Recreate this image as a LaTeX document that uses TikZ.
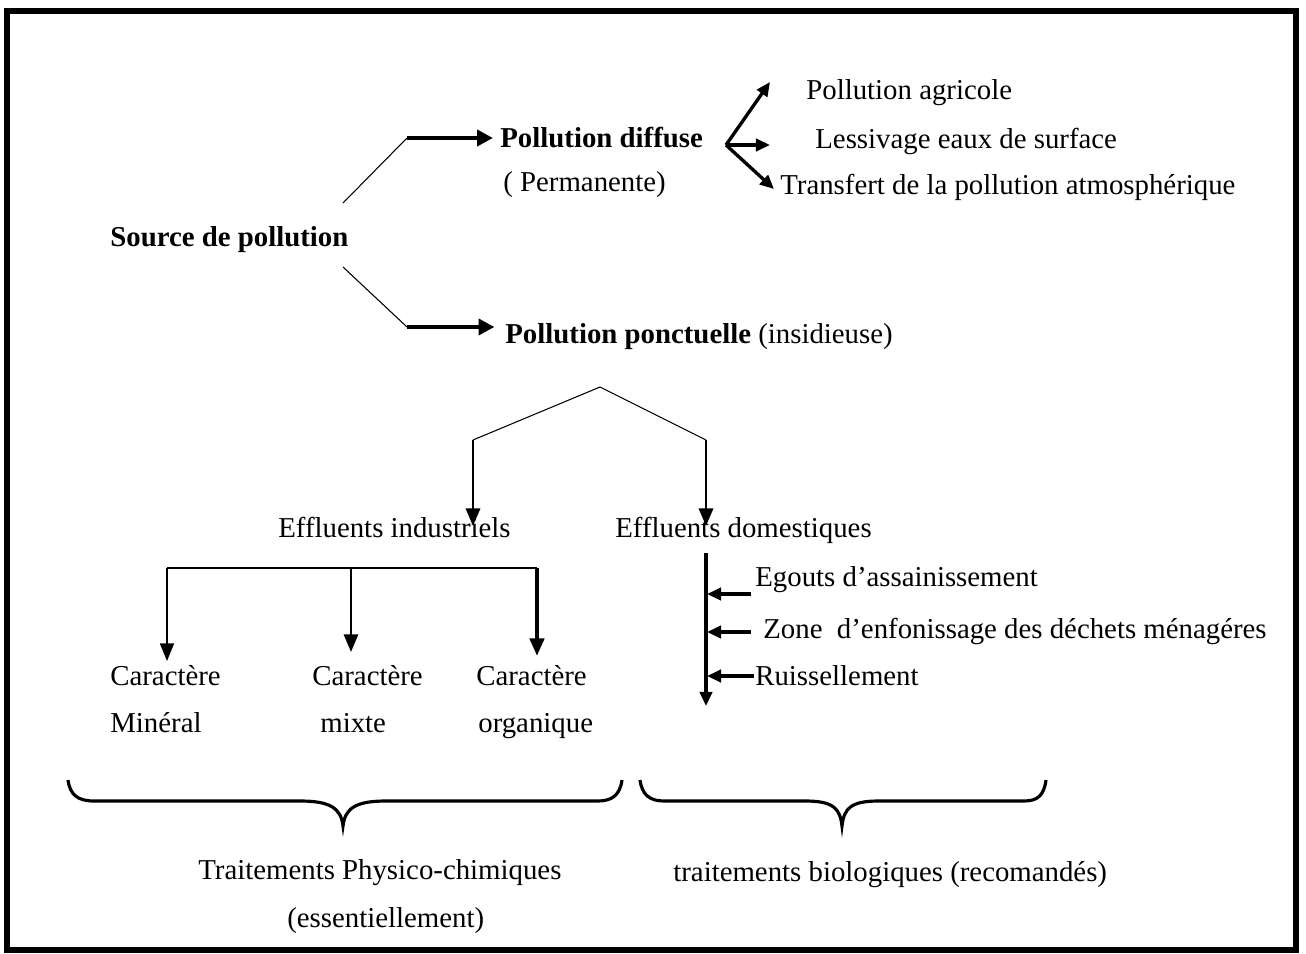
\documentclass[tikz,border=0pt]{standalone}
\usepackage{fontspec}
\setmainfont{Liberation Serif}
\usetikzlibrary{arrows.meta}
\begin{document}
\begin{tikzpicture}[x=0.02cm,y=-0.02cm,
  font=\fontsize{16.4}{19}\selectfont,
  lbl/.style={inner sep=0pt, anchor=base west},
  fine/.style={line width=0.6pt},
  bigarrow/.style={line width=2.8pt, shorten >=4pt, -{Triangle[length=9pt,width=9pt]}},
  midarrow/.style={line width=1.7pt, -{Triangle[length=10pt,width=8pt]}},
  smallarrow/.style={line width=1.9pt, -{Triangle[length=8pt,width=7pt]}},
]
\useasboundingbox (0,0) rectangle (1306,954);
\draw[line width=3.4pt] (7,11) rectangle (1296,950);

% texts
\node[lbl] (src) at (110,246) {\bfseries Source de pollution};
\node[lbl] (diff) at (500,147) {\bfseries Pollution diffuse};
\node[lbl] (perm) at (503,191) {( Permanente)};
\node[lbl] (ponc) at (505,343) {\textbf{Pollution ponctuelle} (insidieuse)};
\node[lbl] (agri) at (806,99) {Pollution agricole};
\node[lbl] (less) at (815,148) {Lessivage eaux de surface};
\node[lbl] (trans) at (780,194) {Transfert de la pollution atmosphérique};
\node[lbl] (indus) at (278,537) {Effluents industriels};
\node[lbl] (dom) at (615,537) {Effluents domestiques};
\node[lbl] (c1a) at (110,685) {Caractère};
\node[lbl] (c1b) at (110,732) {Minéral};
\node[lbl] (c2a) at (312,685) {Caractère};
\node[lbl] (c2b) at (320,732) {mixte};
\node[lbl] (c3a) at (476,685) {Caractère};
\node[lbl] (c3b) at (478,732) {organique};
\node[lbl] (ego) at (755,586) {Egouts d’assainissement};
\node[lbl] (zone) at (763,638) {Zone\ \ d'enfonissage des déchets ménagéres};
\node[lbl] (ruis) at (755,685) {Ruissellement};
\node[lbl] (tpc) at (198,879) {Traitements Physico-chimiques};
\node[lbl] (ess) at (287,927) {(essentiellement)};
\node[lbl] (tbio) at (673,881) {traitements biologiques (recomandés)};

% source branches
\coordinate (s1) at (343,203);
\coordinate (k1) at (407,138);
\coordinate (s2) at (343,267);
\coordinate (k2) at (407,327);
\draw[fine] (s1) -- (k1);
\draw[bigarrow] (k1) -- (k1 -| diff.west);
\draw[fine] (s2) -- (k2);
\draw[bigarrow, shorten >=6pt] (k2) -- (k2 -| ponc.west);

% diffuse fork
\coordinate (fk) at (726,145);
\coordinate (ta) at (770,82);
\coordinate (tl) at (770,145);
\coordinate (tt) at (774,189);
\draw[smallarrow] (fk) -- (ta);
\draw[smallarrow] (fk) -- (tl);
\draw[smallarrow] (fk) -- (tt);

% ponctuelle split
\coordinate (pk) at (600,387);
\coordinate (pl) at (473,440);
\coordinate (pr) at (706,440);
\coordinate (il) at (473,526);
\coordinate (ir) at (706,526);
\draw[fine] (pl) -- (pk) -- (pr);
\draw[midarrow] (pl) -- (il);
\draw[midarrow] (pr) -- (ir);

% industriels
\coordinate (h1) at (167,568);
\coordinate (h2) at (351,568);
\coordinate (h3) at (537,568);
\coordinate (a1) at (167,661);
\coordinate (a2) at (351,652);
\coordinate (a3) at (537,656);
\draw[fine] (h1) -- (h3);
\draw[line width=0.8pt, -{Triangle[length=10pt,width=8pt]}] (h1) -- (a1);
\draw[line width=1.5pt, -{Triangle[length=10pt,width=8pt]}] (h2) -- (a2);
\draw[line width=2.3pt, -{Triangle[length=10pt,width=8pt]}] (h3) -- (a3);

% domestiques
\coordinate (d0) at (706,553);
\coordinate (d1) at (706,706);
\draw[line width=1.8pt, -{Triangle[length=8pt,width=7pt]}] (d0) -- (d1);
\coordinate (e1) at (707,594);
\coordinate (e2) at (707,632);
\coordinate (e3) at (707,676);
\coordinate (f1) at (751,594);
\coordinate (f2) at (751,632);
\coordinate (f3) at (754,676);
\draw[smallarrow] (f1) -- (e1);
\draw[smallarrow] (f2) -- (e2);
\draw[smallarrow] (f3) -- (e3);

% braces
\draw[line width=1.8pt] (68,780) .. controls (70,795) and (78,801) .. (94,801)
  -- (300,801) .. controls (330,801) and (341,808) .. (343,826)
  .. controls (345,808) and (356,801) .. (386,801) -- (598,801)
  .. controls (612,801) and (620,795) .. (622,780);
\draw[line width=1.8pt] (640,780) .. controls (642,795) and (650,801) .. (664,801)
  -- (805,801) .. controls (833,801) and (840,808) .. (842,826)
  .. controls (844,808) and (851,801) .. (879,801) -- (1024,801)
  .. controls (1038,801) and (1044,795) .. (1046,780);
\end{tikzpicture}
\end{document}
